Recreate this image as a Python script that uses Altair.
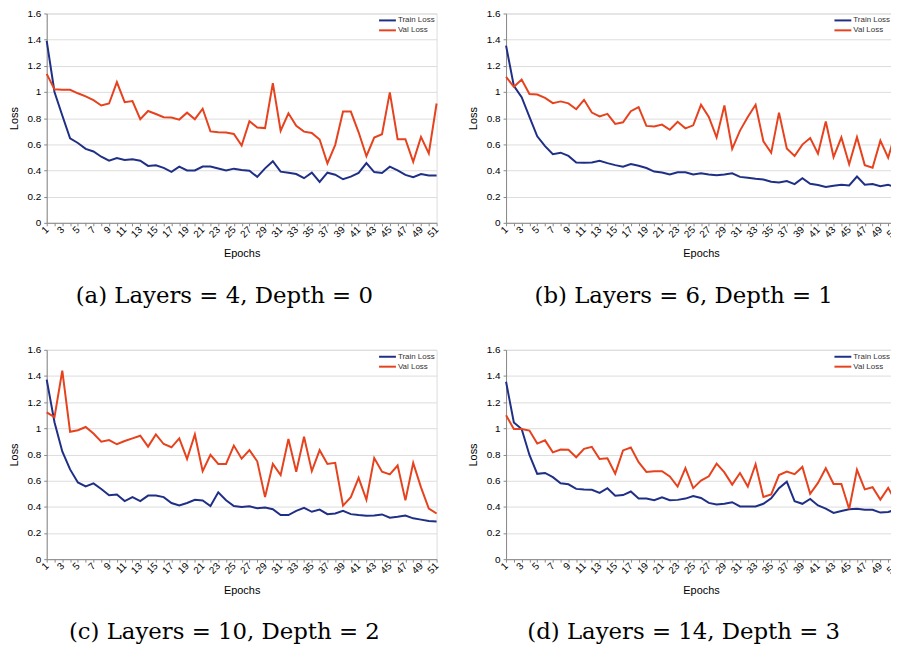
import altair as alt
import pandas as pd

epochs = list(range(1, 52))
series_names = ["Train Loss", "Val Loss"]
series_colors = ["#1f2f85", "#e6421e"]
y_ticks = [0, 0.2, 0.4, 0.6, 0.8, 1.0, 1.2, 1.4, 1.6]

captions = [
    "(a) Layers = 4, Depth = 0",
    "(b) Layers = 6, Depth = 1",
    "(c) Layers = 10, Depth = 2",
    "(d) Layers = 14, Depth = 3",
]

train_a = [1.39, 1.00, 0.82, 0.645, 0.61, 0.565, 0.545, 0.505, 0.475, 0.495,
           0.48, 0.485, 0.475, 0.435, 0.44, 0.42, 0.39, 0.43, 0.40, 0.40,
           0.43, 0.43, 0.415, 0.40, 0.414, 0.404, 0.398, 0.351, 0.416, 0.471,
           0.391, 0.383, 0.373, 0.341, 0.383, 0.313, 0.383, 0.368, 0.333, 0.353,
           0.381, 0.456, 0.388, 0.381, 0.429, 0.401, 0.366, 0.348, 0.373, 0.361,
           0.361]
val_a = [1.138, 1.02, 1.017, 1.017, 0.99, 0.967, 0.937, 0.897, 0.912, 1.075,
         0.922, 0.93, 0.792, 0.855, 0.832, 0.807, 0.805, 0.789, 0.842, 0.792,
         0.872, 0.699, 0.692, 0.69, 0.679, 0.591, 0.777, 0.729, 0.724, 1.068,
         0.704, 0.837, 0.742, 0.697, 0.687, 0.637, 0.454, 0.596, 0.85, 0.85,
         0.692, 0.509, 0.652, 0.677, 0.997, 0.639, 0.639, 0.466, 0.657, 0.531,
         0.912]

train_b = [1.354, 1.047, 0.96, 0.81, 0.661, 0.586, 0.524, 0.536, 0.511, 0.461,
           0.459, 0.461, 0.474, 0.456, 0.441, 0.429, 0.449, 0.436, 0.419, 0.392,
           0.384, 0.369, 0.386, 0.386, 0.369, 0.379, 0.369, 0.364, 0.369, 0.379,
           0.351, 0.344, 0.336, 0.331, 0.314, 0.309, 0.319, 0.296, 0.341, 0.299,
           0.289, 0.274, 0.284, 0.291, 0.286, 0.354, 0.291, 0.296, 0.279, 0.291,
           0.271]
val_b = [1.115, 1.04, 1.095, 0.985, 0.98, 0.955, 0.915, 0.928, 0.913, 0.868,
         0.94, 0.843, 0.813, 0.833, 0.756, 0.768, 0.853, 0.885, 0.741, 0.736,
         0.751, 0.711, 0.772, 0.722, 0.745, 0.902, 0.809, 0.653, 0.897, 0.565,
         0.705, 0.809, 0.902, 0.623, 0.535, 0.842, 0.568, 0.511, 0.598, 0.648,
         0.528, 0.775, 0.503, 0.653, 0.448, 0.655, 0.441, 0.421, 0.628, 0.498,
         0.70]

train_c = [1.372, 1.047, 0.823, 0.686, 0.586, 0.556, 0.579, 0.536, 0.489, 0.494,
           0.444, 0.474, 0.444, 0.486, 0.486, 0.474, 0.429, 0.411, 0.429, 0.454,
           0.449, 0.406, 0.511, 0.45, 0.406, 0.399, 0.404, 0.389, 0.394, 0.382,
           0.337, 0.337, 0.369, 0.392, 0.362, 0.379, 0.344, 0.349, 0.369, 0.344,
           0.337, 0.332, 0.334, 0.342, 0.317, 0.324, 0.334, 0.312, 0.302, 0.292,
           0.287]
val_c = [1.122, 1.085, 1.441, 0.973, 0.985, 1.01, 0.96, 0.898, 0.91, 0.878,
         0.903, 0.923, 0.943, 0.86, 0.953, 0.88, 0.855, 0.923, 0.766, 0.953,
         0.673, 0.798, 0.728, 0.728, 0.868, 0.768, 0.833, 0.748, 0.474, 0.728,
         0.643, 0.918, 0.668, 0.935, 0.673, 0.833, 0.728, 0.736, 0.409, 0.474,
         0.621, 0.454, 0.773, 0.668, 0.648, 0.716, 0.449, 0.736, 0.549, 0.387,
         0.349]

train_d = [1.356, 1.045, 0.995, 0.796, 0.652, 0.659, 0.627, 0.58, 0.572, 0.537,
           0.532, 0.53, 0.507, 0.542, 0.485, 0.49, 0.517, 0.463, 0.463, 0.45,
           0.473, 0.45, 0.453, 0.463, 0.483, 0.468, 0.43, 0.418, 0.423, 0.435,
           0.403, 0.403, 0.403, 0.423, 0.465, 0.542, 0.592, 0.443, 0.423, 0.46,
           0.41, 0.386, 0.353, 0.368, 0.381, 0.386, 0.378, 0.378, 0.356, 0.361,
           0.378]
val_d = [1.10, 0.995, 0.995, 0.983, 0.883, 0.908, 0.816, 0.838, 0.836, 0.779,
         0.843, 0.858, 0.766, 0.771, 0.654, 0.831, 0.853, 0.741, 0.667, 0.672,
         0.672, 0.632, 0.555, 0.695, 0.543, 0.6, 0.633, 0.73, 0.663, 0.57,
         0.658, 0.555, 0.725, 0.475, 0.495, 0.643, 0.67, 0.65, 0.705, 0.5,
         0.583, 0.695, 0.575, 0.575, 0.383, 0.683, 0.533, 0.55, 0.455, 0.545,
         0.438]

GRID = "#b3b3b3"
TXT = "#333333"
PLOT_W = 393
PLOT_H = 211


def panel(train, val, caption, legend_x):
    df = pd.DataFrame({
        "Epoch": epochs + epochs,
        "Loss": train + val,
        "Series": [series_names[0]] * len(epochs) + [series_names[1]] * len(epochs),
    })
    lines = alt.Chart(df).mark_line(strokeWidth=2).encode(
        x=alt.X(
            "Epoch:Q",
            scale=alt.Scale(domain=[1, 51], nice=False, zero=False),
            axis=alt.Axis(
                title="Epochs", values=epochs,
                labelExpr="datum.value % 2 == 1 ? datum.label : ''",
                labelAngle=-45, labelAlign="right", labelBaseline="middle",
                labelOverlap=False, labelFlush=False, grid=False, tickSize=3,
                labelPadding=2, titlePadding=9, titleFontWeight="normal",
            ),
        ),
        y=alt.Y(
            "Loss:Q",
            scale=alt.Scale(domain=[0, 1.6], nice=False),
            axis=alt.Axis(
                title="Loss", values=y_ticks, format=".1~f", tickSize=3,
                labelPadding=3, titlePadding=8, grid=True,
                titleFontWeight="normal",
            ),
        ),
        color=alt.Color(
            "Series:N",
            scale=alt.Scale(domain=series_names, range=series_colors),
            legend=None,
        ),
        order=alt.Order("Series:N"),
    )
    layers = [lines]
    for i, (name, col) in enumerate(zip(series_names, series_colors)):
        ly = 7 + 10 * i
        layers.append(
            alt.Chart(pd.DataFrame({"Series": [name]})).mark_rule(
                color=col, strokeWidth=2
            ).encode(x=alt.value(legend_x), x2=alt.value(legend_x + 17), y=alt.value(ly))
        )
        layers.append(
            alt.Chart(pd.DataFrame({"Series": [name]})).mark_text(
                align="left", baseline="middle", font="Liberation Sans",
                fontSize=8, color=TXT,
            ).encode(x=alt.value(legend_x + 19), y=alt.value(ly), text="Series:N")
        )
    return alt.layer(*layers).properties(
        width=PLOT_W,
        height=PLOT_H,
        title=alt.TitleParams(
            caption, orient="bottom", frame="bounds", anchor="middle",
            font="DejaVu Serif", fontSize=23, fontWeight="normal",
            color="black", offset=26,
        ),
    )


pa = panel(train_a, val_a, captions[0], 335)
pb = panel(train_b, val_b, captions[1], 331)
pc = panel(train_c, val_c, captions[2], 335)
pd_ = panel(train_d, val_d, captions[3], 331)

row1 = alt.hconcat(pa, pb, spacing=25)
row2 = alt.hconcat(pc, pd_, spacing=25)

chart = alt.vconcat(row1, row2, spacing=36).properties(
    padding={"top": -3, "left": -1, "right": -10, "bottom": -3}
).configure_axis(
    labelFont="Liberation Sans", titleFont="Liberation Sans",
    labelFontSize=8, titleFontSize=8, titleFontWeight="normal",
    labelColor=TXT, titleColor=TXT,
    domainColor=GRID, tickColor=GRID, gridColor=GRID, gridWidth=1,
).configure_view(
    stroke=GRID
).configure(background="white")

chart.save("out.html", embed_options={"renderer": "svg", "actions": False})
